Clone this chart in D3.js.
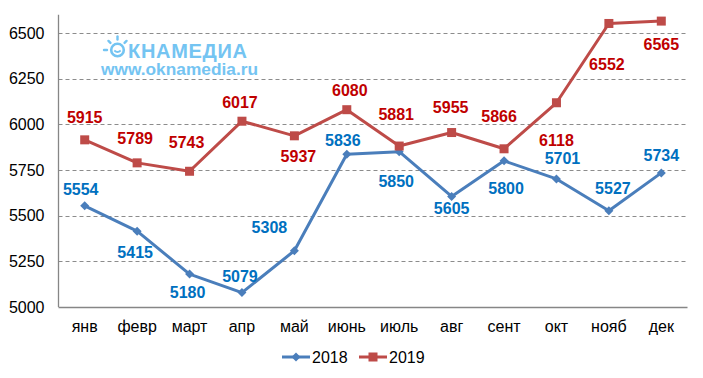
<!DOCTYPE html>
<html><head><meta charset="utf-8">
<script src="https://cdn.jsdelivr.net/npm/d3@7"></script>
<style>body{margin:0;background:#fff}svg{display:block;font-family:"Liberation Sans",Arial,sans-serif}</style>
</head><body><svg id="c" width="703" height="378"></svg>
<script>
const months = ["янв","февр","март","апр","май","июнь","июль","авг","сент","окт","нояб","дек"];
const values2018 = [5554,5415,5180,5079,5308,5836,5850,5605,5800,5701,5527,5734];
const values2019 = [5915,5789,5743,6017,5937,6080,5881,5955,5866,6118,6552,6565];
const yTicks = [5000,5250,5500,5750,6000,6250,6500];
const seriesNames = ["2018","2019"];

// label placement (layout only), pixel offsets from each point
const off2018 = [[-4,-16],[-2,21],[-2,18],[-2,-16],[-25,-23],[-4,-14],[-3,30],[0,12],[2,28],[6,-20],[4,-22],[0,-17]];
const off2019 = [[0,-22],[-2,-24],[-3,-29],[-2,-19],[4,21],[3,-19],[-3,-32],[-1,-25],[-5,-32],[0,38],[-2,41],[0,23]];

const svg = d3.select("#c");
const L = 58.5, R = 687.5, B = 307, T = 14.7;
const x = d3.scaleBand().domain(months).range([L, R]);
const y = d3.scaleLinear().domain([5000, 6600]).range([B, T]);
const cx = m => x(m) + x.bandwidth()/2;
const FS = "16px";

// gridlines
svg.append("g").selectAll("line").data(yTicks.filter(t=>t>5000)).join("line")
  .attr("x1", L).attr("x2", R).attr("y1", d=>Math.round(y(d))+0.5).attr("y2", d=>Math.round(y(d))+0.5)
  .attr("stroke", "#8c8c8c").attr("stroke-width",1).attr("stroke-dasharray","4,3");

// axes
const yAxis = d3.axisLeft(y).tickValues(yTicks).tickFormat(d3.format("d")).tickSize(0).tickPadding(14);
const gy = svg.append("g").attr("transform", `translate(${L},0)`).call(yAxis);
gy.select(".domain").remove();
gy.selectAll("text").attr("font-size",FS).attr("fill","#000").attr("font-family","Liberation Sans, Arial, sans-serif");
svg.append("line").attr("x1",L).attr("x2",L).attr("y1",T).attr("y2",B).attr("stroke","#868686").attr("stroke-width",1.3);
svg.append("line").attr("x1",L).attr("x2",R).attr("y1",B+0.5).attr("y2",B+0.5).attr("stroke","#868686").attr("stroke-width",1.3);

const xAxis = d3.axisBottom(x).tickSize(0).tickPadding(14);
const gx = svg.append("g").attr("transform", `translate(0,${B})`).call(xAxis);
gx.select(".domain").remove();
gx.selectAll("text").attr("font-size",FS).attr("fill","#000").attr("font-family","Liberation Sans, Arial, sans-serif");

// logo
const logo = svg.append("g").attr("fill","#74c4f2");
const sx = 117.5, sy = 50;
logo.append("circle").attr("cx",sx).attr("cy",sy).attr("r",6.3).attr("fill","none").attr("stroke","#74c4f2").attr("stroke-width",2.6);
logo.append("path").attr("d",`M${sx-3.2},${sy+0.5} Q${sx},${sy+3.5} ${sx+3.2},${sy+0.5}`).attr("fill","none").attr("stroke","#74c4f2").attr("stroke-width",1.8);
[[-90,10.5,13.5],[-135,10,12.8],[-45,10,12.8],[180,10.5,13.5]].forEach(([a,r1,r2])=>{
  const rad=a*Math.PI/180;
  logo.append("line").attr("x1",sx+r1*Math.cos(rad)).attr("y1",sy+r1*Math.sin(rad))
    .attr("x2",sx+r2*Math.cos(rad)).attr("y2",sy+r2*Math.sin(rad)).attr("stroke","#74c4f2").attr("stroke-width",2.4).attr("stroke-linecap","round");
});
logo.append("text").attr("x",128).attr("y",57.5).attr("font-size","20px").attr("font-weight","bold")
  .attr("textLength",119).attr("lengthAdjust","spacing").text("КНАМЕДИА");
logo.append("text").attr("x",101).attr("y",74.5).attr("font-size","17px").attr("font-weight","bold")
  .attr("textLength",157).attr("lengthAdjust","spacingAndGlyphs").text("www.oknamedia.ru");

// lines
const line = d3.line().x((d,i)=>cx(months[i])).y(d=>y(d));
const c2018 = "#4a7ebb", c2019 = "#be4b48";
svg.append("path").datum(values2018).attr("d",line).attr("fill","none").attr("stroke",c2018).attr("stroke-width",3).attr("stroke-linejoin","round");
svg.append("path").datum(values2019).attr("d",line).attr("fill","none").attr("stroke",c2019).attr("stroke-width",3).attr("stroke-linejoin","round");

const diamond = (px,py,s)=>`M${px},${py-s}L${px+s},${py}L${px},${py+s}L${px-s},${py}Z`;
svg.append("g").selectAll("path").data(values2018).join("path")
  .attr("d",(d,i)=>diamond(cx(months[i]),y(d),4.5)).attr("fill",c2018);
svg.append("g").selectAll("rect").data(values2019).join("rect")
  .attr("x",(d,i)=>cx(months[i])-4.5).attr("y",d=>y(d)-4.5).attr("width",9).attr("height",9).attr("fill",c2019);

// data labels
function labels(vals, offs, col){
  svg.append("g").selectAll("text").data(vals).join("text")
    .attr("x",(d,i)=>cx(months[i])+offs[i][0]).attr("y",(d,i)=>y(d)+offs[i][1])
    .attr("text-anchor","middle").attr("dominant-baseline","central")
    .attr("font-size",FS).attr("font-weight","bold").attr("fill",col).text(d=>d);
}
labels(values2018, off2018, "#0070c0");
labels(values2019, off2019, "#c00000");

// legend
const lg = svg.append("g");
const ly = 357;
[[282,c2018,"d"],[359,c2019,"s"]].forEach(([lx,col,m],k)=>{
  lg.append("line").attr("x1",lx).attr("x2",lx+28).attr("y1",ly).attr("y2",ly).attr("stroke",col).attr("stroke-width",3);
  if(m==="d") lg.append("path").attr("d",diamond(lx+14,ly,4.5)).attr("fill",col);
  else lg.append("rect").attr("x",lx+14-4.5).attr("y",ly-4.5).attr("width",9).attr("height",9).attr("fill",col);
  lg.append("text").attr("x",lx+30).attr("y",ly).attr("dominant-baseline","central").attr("font-size",FS).attr("fill","#000").text(seriesNames[k]);
});
</script></body></html>
